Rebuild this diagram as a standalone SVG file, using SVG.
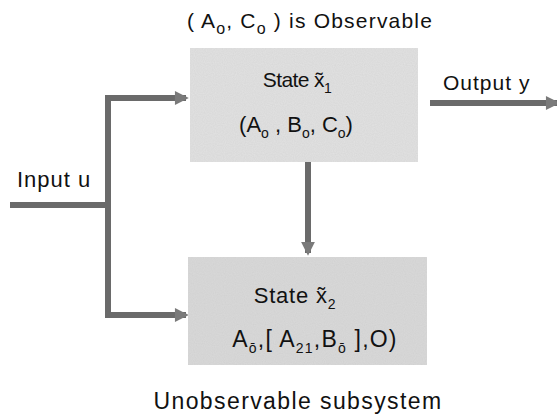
<svg xmlns="http://www.w3.org/2000/svg" width="557" height="416" viewBox="0 0 557 416">
<style>
text{font-family:"Liberation Sans","DejaVu Sans",sans-serif;fill:#111;}
.sub{font-size:14px;}
.box1{fill:#e3e3e3;}
.box2{fill:#dadada;}
.wire{stroke:#6a6a6a;stroke-width:6;fill:none;}
</style>
<defs>
<marker id="ah" viewBox="0 0 10 10" refX="8" refY="5" markerWidth="2.5" markerHeight="2.3" orient="auto" markerUnits="strokeWidth">
<path d="M0,0 L10,5 L0,10 Z" fill="#7a7a7a"/>
</marker>
<filter id="grain" x="0" y="0" width="1" height="1">
<feTurbulence type="fractalNoise" baseFrequency="0.9" numOctaves="1" seed="3" result="n"/>
<feColorMatrix in="n" type="matrix" values="0 0 0 0 0.5  0 0 0 0 0.5  0 0 0 0 0.5  0 0 0 0.35 0" result="g"/>
<feComposite in="g" in2="SourceGraphic" operator="in" result="gi"/>
<feMerge><feMergeNode in="SourceGraphic"/><feMergeNode in="gi"/></feMerge>
</filter>
</defs>
<text x="310" y="28" text-anchor="middle" font-size="21" letter-spacing="1.2">( A<tspan font-size="16" dy="6">o</tspan><tspan dy="-6">, C</tspan><tspan font-size="16" dy="6">o</tspan><tspan dy="-6"> ) is Observable</tspan></text>
<g id="connectors">
<path class="wire" d="M10,205 H108"/>
<path class="wire" d="M108,95 V318"/>
<path class="wire" d="M105,98 H186" marker-end="url(#ah)"/>
<path class="wire" d="M105,315 H186" marker-end="url(#ah)"/>
<path class="wire" d="M308,162 V253" marker-end="url(#ah)"/>
<path class="wire" d="M430,103 H557" marker-end="url(#ah)"/>
</g>
<g id="input">
<text x="17" y="187" font-size="22" letter-spacing="1">Input u</text>
</g>
<g id="output">
<text x="443" y="90" font-size="21" letter-spacing="1">Output y</text>
</g>
<g id="state1">
<rect class="box1" x="190" y="48" width="228" height="114" filter="url(#grain)"/>
<text x="297" y="87" text-anchor="middle" font-size="21" letter-spacing="-0.6">State x̃<tspan class="sub" dy="6">1</tspan></text>
<text x="296" y="132" text-anchor="middle" font-size="22">(A<tspan class="sub" dy="6">o</tspan><tspan dy="-6"> , B</tspan><tspan class="sub" dy="6">o</tspan><tspan dy="-6">, C</tspan><tspan class="sub" dy="6">o</tspan><tspan dy="-6">)</tspan></text>
</g>
<g id="state2">
<rect class="box2" x="188" y="257" width="239" height="108" filter="url(#grain)"/>
<text x="295" y="303" text-anchor="middle" font-size="22" letter-spacing="0.8">State x̃<tspan class="sub" dy="6">2</tspan></text>
<text x="315" y="347" text-anchor="middle" font-size="23" letter-spacing="1.2">A<tspan class="sub" dy="6">ō</tspan><tspan dy="-6">,[ A</tspan><tspan class="sub" dy="6">21</tspan><tspan dy="-6">,B</tspan><tspan class="sub" dy="6">ō</tspan><tspan dy="-6"> ],O)</tspan></text>
</g>
<text x="298" y="409" text-anchor="middle" font-size="23" letter-spacing="1.4">Unobservable subsystem</text>
</svg>
